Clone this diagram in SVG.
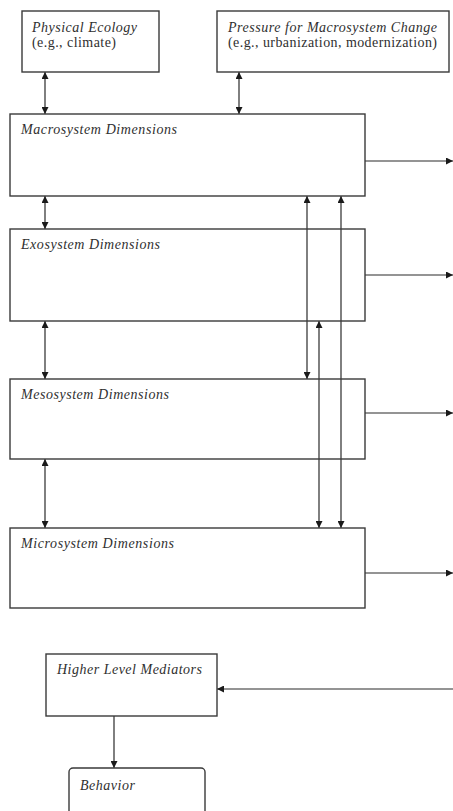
<svg xmlns="http://www.w3.org/2000/svg" width="453" height="811" viewBox="0 0 453 811">
<style>
.box{fill:#fff;stroke:#3a3a3a;stroke-width:1.4}
.open{fill:none}
.ln{fill:none;stroke:#2a2a2a;stroke-width:1.2}
.t{font-family:"Liberation Serif",serif;font-size:14px;fill:#2f2f2f}
.i{font-style:italic}
</style>
<defs>
<marker id="ah" viewBox="0 0 10 10" refX="10" refY="5" markerWidth="7" markerHeight="7" markerUnits="userSpaceOnUse" orient="auto-start-reverse">
<path d="M0,0 L10,5 L0,10 Z" fill="#1a1a1a"/>
</marker>
</defs>
<rect width="453" height="811" fill="#fff"/>
<g id="connectors">
<line class="ln" x1="45" y1="72" x2="45" y2="114" marker-start="url(#ah)" marker-end="url(#ah)"/>
<line class="ln" x1="239" y1="72" x2="239" y2="114" marker-start="url(#ah)" marker-end="url(#ah)"/>
<line class="ln" x1="45" y1="196" x2="45" y2="229" marker-start="url(#ah)" marker-end="url(#ah)"/>
<line class="ln" x1="45" y1="321" x2="45" y2="379" marker-start="url(#ah)" marker-end="url(#ah)"/>
<line class="ln" x1="45" y1="459" x2="45" y2="528" marker-start="url(#ah)" marker-end="url(#ah)"/>
<line class="ln" x1="307" y1="196" x2="307" y2="379" marker-start="url(#ah)" marker-end="url(#ah)"/>
<line class="ln" x1="341" y1="196" x2="341" y2="528" marker-start="url(#ah)" marker-end="url(#ah)"/>
<line class="ln" x1="319" y1="321" x2="319" y2="528" marker-start="url(#ah)" marker-end="url(#ah)"/>
<line class="ln" x1="365" y1="161" x2="453" y2="161" marker-end="url(#ah)"/>
<line class="ln" x1="365" y1="275" x2="453" y2="275" marker-end="url(#ah)"/>
<line class="ln" x1="365" y1="413" x2="453" y2="413" marker-end="url(#ah)"/>
<line class="ln" x1="365" y1="573" x2="453" y2="573" marker-end="url(#ah)"/>
<line class="ln" x1="453" y1="689" x2="217" y2="689" marker-end="url(#ah)"/>
<line class="ln" x1="114" y1="716" x2="114" y2="768" marker-end="url(#ah)"/>
</g>
<g id="physical">
<rect class="box" x="22" y="11" width="137" height="61"/>
<text class="t i" x="32" y="32" textLength="105">Physical Ecology</text>
<text class="t" x="32" y="47" textLength="84">(e.g., climate)</text>
</g>
<g id="pressure">
<rect class="box" x="217" y="11" width="232" height="61"/>
<text class="t i" x="228" y="32" textLength="209">Pressure for Macrosystem Change</text>
<text class="t" x="228" y="47" textLength="209">(e.g., urbanization, modernization)</text>
</g>
<g id="macro">
<rect class="box" x="10" y="114" width="355" height="82"/>
<text class="t i" x="21" y="134" textLength="156">Macrosystem Dimensions</text>
</g>
<g id="exo">
<rect class="box open" x="10" y="229" width="355" height="92"/>
<text class="t i" x="21" y="249" textLength="139">Exosystem Dimensions</text>
</g>
<g id="meso">
<rect class="box open" x="10" y="379" width="355" height="80"/>
<text class="t i" x="21" y="399" textLength="148">Mesosystem Dimensions</text>
</g>
<g id="micro">
<rect class="box" x="10" y="528" width="355" height="80"/>
<text class="t i" x="21" y="548" textLength="153">Microsystem Dimensions</text>
</g>
<g id="mediators">
<rect class="box" x="46" y="654" width="171" height="62"/>
<text class="t i" x="57" y="674" textLength="145">Higher Level Mediators</text>
</g>
<g id="behavior">
<rect class="box" x="69" y="768" width="136" height="70" rx="4"/>
<text class="t i" x="80" y="790" textLength="55">Behavior</text>
</g>
</svg>
